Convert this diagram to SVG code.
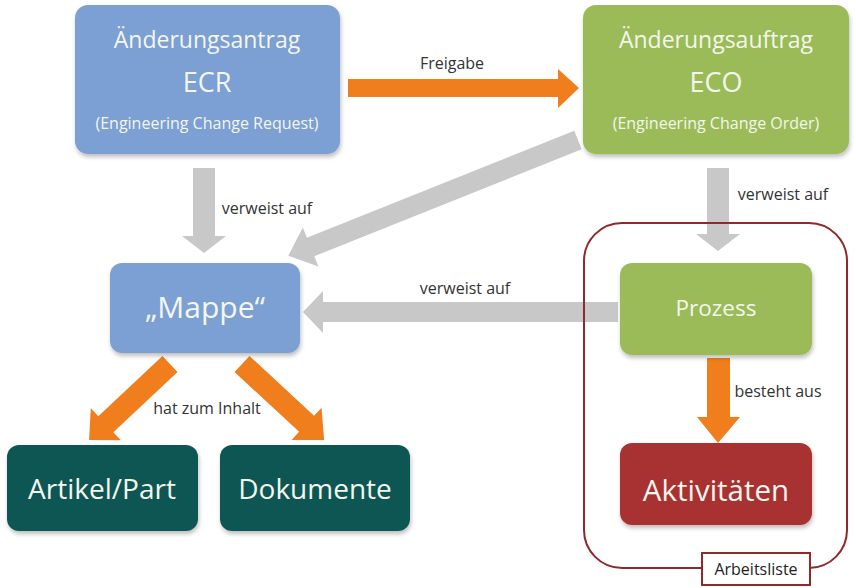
<svg xmlns="http://www.w3.org/2000/svg" width="856" height="588" viewBox="0 0 856 588">
<defs>
<filter id="sh" x="-10%" y="-10%" width="125%" height="130%">
<feDropShadow dx="1" dy="3" stdDeviation="2" flood-color="#000" flood-opacity="0.25"/>
</filter>
<style>
.blue{fill:#7C9FD4;filter:url(#sh)}
.green{fill:#9BBB59;filter:url(#sh)}
.teal{fill:#0E5752;filter:url(#sh)}
.red{fill:#A83330;filter:url(#sh)}
.gray{fill:#C8C8C8}
.orange{fill:#F07E1C}
text{font-family:"Open Sans","Noto Sans","Liberation Sans",sans-serif;text-anchor:middle}
.w{fill:#F3F6EC}
.lbl{fill:#333;font-size:16px}
</style>
</defs>
<rect width="856" height="588" fill="#fff"/>
<g id="connectors">
<path class="orange" d="M348,79 L558,79 L558,69 L579,88 L558,108 L558,97 L348,97 Z"/>
<text class="lbl" x="452" y="69">Freigabe</text>
<path class="gray" d="M193,168 L215,168 L215,236 L226,236 L204,253 L182,236 L193,236 Z"/>
<text class="lbl" x="267" y="214">verweist auf</text>
<path class="gray" transform="translate(578,140) rotate(158.2)" d="M0,-10 L288,-10 L288,-21 L312,0 L288,21 L288,10 L0,10 Z"/>
<path class="gray" d="M707,168 L729,168 L729,234 L740,234 L718,251 L696,234 L707,234 Z"/>
<text class="lbl" x="783" y="200">verweist auf</text>
<path class="gray" d="M618,302 L323,302 L323,291 L303,312 L323,333 L323,322 L618,322 Z"/>
<text class="lbl" x="465" y="294">verweist auf</text>
<path class="orange" transform="translate(170,364) rotate(136.8)" d="M0,-11 L88,-11 L88,-22 L111,0 L88,22 L88,11 L0,11 Z"/>
<path class="orange" transform="translate(242,364) rotate(42.8)" d="M0,-11 L88,-11 L88,-22 L112,0 L88,22 L88,11 L0,11 Z"/>
<text class="lbl" x="207" y="414">hat zum Inhalt</text>
<path class="orange" d="M707,358 L730,358 L730,417 L740,417 L718,443 L697,417 L707,417 Z"/>
<text class="lbl" x="778" y="397">besteht aus</text>
</g>
<g id="arbeitsliste">
<rect x="584" y="223" width="263" height="345" rx="38" fill="none" stroke="#8E2A2A" stroke-width="2"/>
<rect x="702" y="553" width="108" height="32" fill="#fff" stroke="#8E2A2A" stroke-width="2"/>
<text x="756" y="575" fill="#222" font-size="16">Arbeitsliste</text>
</g>
<g id="ecr">
<rect class="blue" x="75" y="5" width="265" height="149" rx="13"/>
<text class="w" x="207" y="48" font-size="23">Änderungsantrag</text>
<text class="w" x="207" y="92" font-size="27">ECR</text>
<text class="w" x="207" y="129" font-size="16">(Engineering Change Request)</text>
</g>
<g id="eco">
<rect class="green" x="583" y="5" width="266" height="149" rx="13"/>
<text class="w" x="716" y="48" font-size="23">Änderungsauftrag</text>
<text class="w" x="716" y="92" font-size="27">ECO</text>
<text class="w" x="716" y="129" font-size="16">(Engineering Change Order)</text>
</g>
<g id="mappe">
<rect class="blue" x="110" y="263" width="190" height="90" rx="12"/>
<text class="w" x="205" y="318" font-size="30">„Mappe“</text>
</g>
<g id="prozess">
<rect class="green" x="620" y="263" width="192" height="92" rx="12"/>
<text class="w" x="716" y="316" font-size="22.5">Prozess</text>
</g>
<g id="aktivitaeten">
<rect class="red" x="620" y="443" width="192" height="82" rx="12"/>
<text class="w" x="716" y="501" font-size="29.5">Aktivitäten</text>
</g>
<g id="artikel">
<rect class="teal" x="7" y="445" width="191" height="86" rx="12"/>
<text class="w" x="102" y="499" font-size="28">Artikel/Part</text>
</g>
<g id="dokumente">
<rect class="teal" x="220" y="445" width="190" height="86" rx="12"/>
<text class="w" x="315" y="499" font-size="28">Dokumente</text>
</g>
</svg>
